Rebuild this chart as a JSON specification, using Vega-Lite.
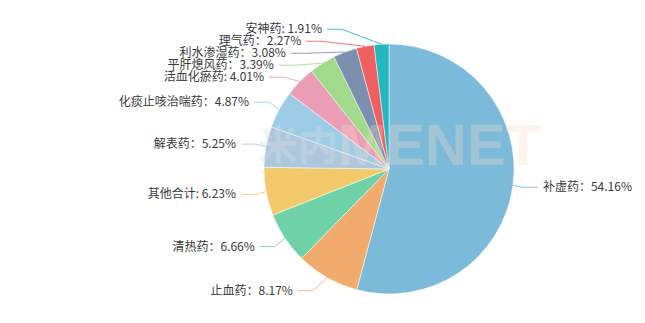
{
  "$schema": "https://vega.github.io/schema/vega-lite/v6.json",
  "width": 645,
  "height": 323,
  "autosize": {"type": "fit", "contains": "padding"},
  "padding": 0,
  "background": "#ffffff",
  "config": {"view": {"stroke": null}, "font": "Noto Sans CJK SC"},
  "layer": [
    {
      "data": {
        "values": [
          {"category": "补虚药", "value": 54.16, "label": "补虚药：54.16%"},
          {"category": "止血药", "value": 8.17, "label": "止血药：8.17%"},
          {"category": "清热药", "value": 6.66, "label": "清热药：6.66%"},
          {"category": "其他合计", "value": 6.23, "label": "其他合计: 6.23%"},
          {"category": "解表药", "value": 5.25, "label": "解表药：5.25%"},
          {"category": "化痰止咳治喘药", "value": 4.87, "label": "化痰止咳治喘药：4.87%"},
          {"category": "活血化瘀药", "value": 4.01, "label": "活血化瘀药: 4.01%"},
          {"category": "平肝熄风药", "value": 3.39, "label": "平肝熄风药：3.39%"},
          {"category": "利水渗湿药", "value": 3.08, "label": "利水渗湿药：3.08%"},
          {"category": "理气药", "value": 2.27, "label": "理气药：2.27%"},
          {"category": "安神药", "value": 1.91, "label": "安神药: 1.91%"}
        ]
      },
      "transform": [
        {"window": [{"op": "row_number", "as": "idx"}]},
        {"window": [{"op": "sum", "field": "value", "as": "t1"}], "sort": [{"field": "idx", "order": "ascending"}], "frame": [null, 0]},
        {"calculate": "datum.t1 - datum.value", "as": "t0"},
        {"calculate": "PI * (datum.t0 + datum.t1) / 100", "as": "mid"},
        {"calculate": "sin(datum.mid)", "as": "ex"},
        {"calculate": "cos(datum.mid)", "as": "ey"},
        {"calculate": "datum.ex < 0 ? -1 : 1", "as": "dir"},
        {"calculate": "1.12 * datum.ey", "as": "ny"},
        {"window": [{"op": "row_number", "as": "k"}], "groupby": ["dir"], "sort": [{"field": "ny", "order": "descending"}]},
        {"calculate": "datum.ny + datum.k * 0.096", "as": "z"},
        {"window": [{"op": "min", "field": "z", "as": "zmin"}], "groupby": ["dir"], "sort": [{"field": "ny", "order": "descending"}], "frame": [null, 0]},
        {"calculate": "datum.zmin - datum.k * 0.096", "as": "ly"},
        {"calculate": "datum.dir * (abs(datum.ly) < 1.12 ? sqrt(1.24 * 1.24 - datum.ly * datum.ly) : abs(1.12 * datum.ex) + 0.16)", "as": "lx"},
        {"calculate": "datum.lx - datum.dir * 0.16", "as": "bx"},
        {"calculate": "datum.lx - datum.dir * 0.04", "as": "qx"}
      ],
      "layer": [
        {
          "mark": {"type": "arc", "outerRadius": 125, "stroke": "#ffffff", "strokeWidth": 0.5},
          "encoding": {
            "x": {"datum": 0, "type": "quantitative", "scale": {"domain": [-3.112, 2.048], "nice": false, "zero": false}, "axis": null},
            "y": {"datum": 0, "type": "quantitative", "scale": {"domain": [-1.232, 1.352], "nice": false, "zero": false}, "axis": null},
            "theta": {"field": "t0", "type": "quantitative", "stack": null, "scale": {"domain": [0, 100], "range": [0, 6.283185307179586]}},
            "theta2": {"field": "t1"},
            "color": {
              "field": "category",
              "type": "nominal",
              "legend": null,
              "scale": {
                "domain": ["补虚药", "止血药", "清热药", "其他合计", "解表药", "化痰止咳治喘药", "活血化瘀药", "平肝熄风药", "利水渗湿药", "理气药", "安神药"],
                "range": ["#7bbad9", "#f1ab6d", "#6fd1a6", "#f2ca6b", "#adc8dc", "#9dcde6", "#ea9db5", "#a2da8c", "#7a90ae", "#ee5f5f", "#23b7bf"]
              }
            }
          }
        },
        {
          "mark": {"type": "rule", "strokeWidth": 1, "opacity": 0.85},
          "encoding": {
            "x": {"field": "ex", "type": "quantitative"},
            "y": {"field": "ey", "type": "quantitative"},
            "x2": {"field": "bx"},
            "y2": {"field": "ly"},
            "color": {"field": "category", "type": "nominal", "legend": null}
          }
        },
        {
          "mark": {"type": "rule", "strokeWidth": 1, "opacity": 0.85},
          "encoding": {
            "x": {"field": "bx", "type": "quantitative"},
            "y": {"field": "ly", "type": "quantitative"},
            "x2": {"field": "qx"},
            "y2": {"field": "ly"},
            "color": {"field": "category", "type": "nominal", "legend": null}
          }
        },
        {
          "transform": [{"filter": "datum.dir < 0"}],
          "mark": {"type": "text", "align": "right", "baseline": "middle", "fontSize": 12, "fill": "#3a3a3a"},
          "encoding": {
            "x": {"field": "lx", "type": "quantitative"},
            "y": {"field": "ly", "type": "quantitative"},
            "text": {"field": "label"}
          }
        },
        {
          "transform": [{"filter": "datum.dir > 0"}],
          "mark": {"type": "text", "align": "left", "baseline": "middle", "fontSize": 12, "fill": "#3a3a3a"},
          "encoding": {
            "x": {"field": "lx", "type": "quantitative"},
            "y": {"field": "ly", "type": "quantitative"},
            "text": {"field": "label"}
          }
        }
      ]
    },
    {
      "data": {"values": [{"word": "米内"}]},
      "mark": {"type": "text", "align": "center", "baseline": "middle", "font": "Noto Sans CJK SC", "fontWeight": "bold", "fontSize": 40, "fill": "#d5dce3", "opacity": 0.35},
      "encoding": {
        "x": {"datum": -0.728, "type": "quantitative"},
        "y": {"datum": 0.168, "type": "quantitative"},
        "text": {"field": "word"}
      }
    },
    {
      "data": {"values": [{"word": "MENET"}]},
      "mark": {"type": "text", "align": "left", "baseline": "middle", "font": "Liberation Sans", "fontWeight": "bold", "fontSize": 58, "fill": "#fbdcc9", "opacity": 0.3},
      "encoding": {
        "x": {"datum": -0.408, "type": "quantitative"},
        "y": {"datum": 0.168, "type": "quantitative"},
        "text": {"field": "word"}
      }
    }
  ]
}
